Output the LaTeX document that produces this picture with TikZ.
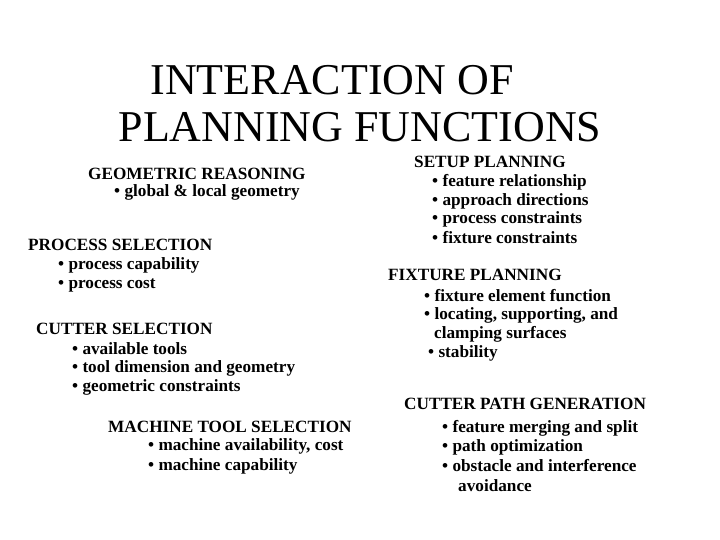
\documentclass[tikz,border=0pt]{standalone}
\usepackage{fontspec}
\setmainfont{Liberation Serif}
\begin{document}
\begin{tikzpicture}[x=1pt,y=-1pt,
  ln/.style={anchor=west,inner sep=0pt,font=\fontsize{17.2}{19}\selectfont\bfseries},
  ttl/.style={anchor=center,inner sep=0pt,font=\fontsize{44}{48}\selectfont}]
\useasboundingbox (0,0) rectangle (720,540);
\node[ttl] (t1) at (332,80) {INTERACTION OF};
\node[ttl] (t2) at (360,127) {PLANNING FUNCTIONS};
\node[ln] (g0) at (88,174) {GEOMETRIC REASONING};
\node[ln] (g1) at (114,192) {• global \& local geometry};
\node[ln] (p0) at (28,245) {PROCESS SELECTION};
\node[ln] (p1) at (58,265) {• process capability};
\node[ln] (p2) at (58,285) {• process cost};
\node[ln] (c0) at (36,329) {CUTTER SELECTION};
\node[ln] (c1) at (72,349) {• available tools};
\node[ln] (c2) at (72,368) {• tool dimension and geometry};
\node[ln] (c3) at (72,387) {• geometric constraints};
\node[ln] (m0) at (108,427) {MACHINE TOOL SELECTION};
\node[ln] (m1) at (148,446) {• machine availability, cost};
\node[ln] (m2) at (148,466) {• machine capability};
\node[ln] (s0) at (414,162) {SETUP PLANNING};
\node[ln] (s1) at (432,182) {• feature relationship};
\node[ln] (s2) at (432,201) {• approach directions};
\node[ln] (s3) at (432,219) {• process constraints};
\node[ln] (s4) at (432,238) {• fixture constraints};
\node[ln] (f0) at (388,275) {FIXTURE PLANNING};
\node[ln] (f1) at (424,296) {• fixture element function};
\node[ln] (f2) at (424,315) {• locating, supporting, and};
\node[ln] (f3) at (434,334) {clamping surfaces};
\node[ln] (f4) at (428,353) {• stability};
\node[ln] (k0) at (404,404) {CUTTER PATH GENERATION};
\node[ln] (k1) at (442,428) {• feature merging and split};
\node[ln] (k2) at (442,447) {• path optimization};
\node[ln] (k3) at (442,466) {• obstacle and interference};
\node[ln] (k4) at (458,486) {avoidance};
\end{tikzpicture}
\end{document}
